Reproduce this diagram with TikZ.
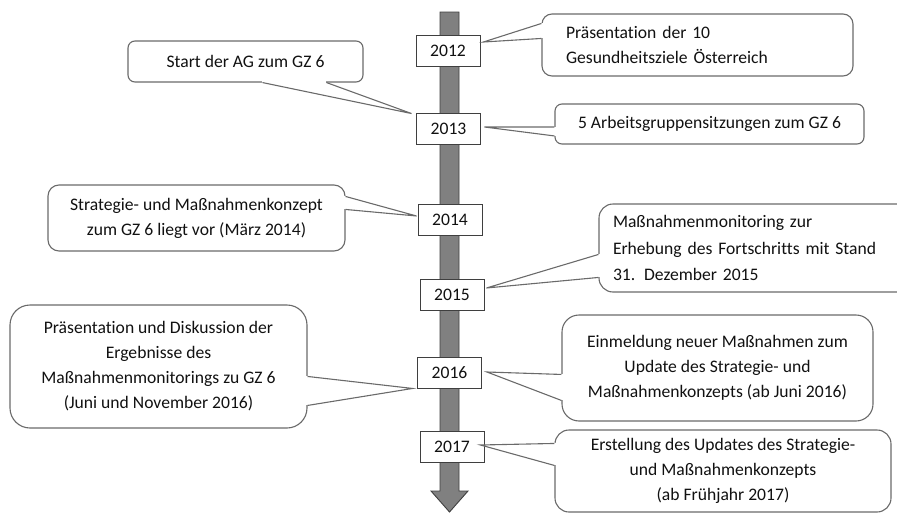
\documentclass[tikz,border=0pt]{standalone}
\usepackage{fontspec}
\setmainfont{Carlito}[Ligatures={NoCommon}]
\usepackage{xcolor}
\usepackage{tikz}
\usetikzlibrary{calc}
\definecolor{axis}{HTML}{808080}
\definecolor{axisline}{HTML}{3F3F3F}
\definecolor{frame}{HTML}{6A6A6A}
\definecolor{ink}{HTML}{111111}
\tikzset{
  timeline/.style={fill=axis, draw=axisline, line width=0.9pt, line join=miter},
  yearbox/.style={draw=axisline, fill=white, line width=0.9pt, minimum width=64pt, minimum height=31pt, inner sep=0pt, text=ink},
  callout/.style={draw=frame, fill=white, line width=1.1pt, rounded corners=#1, inner sep=0pt, align=center, text=ink},
  gap/.style={draw=white, line width=2.6pt},
  pointer/.style={draw=frame, line width=1.1pt, line join=miter},
}

\begin{document}
\begin{tikzpicture}[x=1pt, y=-1pt, font=\fontsize{17.6}{25}\selectfont]
  \useasboundingbox (0,0) rectangle (897,514);
  % timeline
  \filldraw[timeline] (440,12) -- (459,12) -- (459,491) -- (468,491) -- (449.5,512) -- (431,491) -- (440,491) -- cycle;
  \node[yearbox] (y12) at (448,50.5) {2012};
  \node[yearbox] (y13) at (448.5,128.5) {2013};
  \node[yearbox] (y14) at (450,219.5) {2014};
  \node[yearbox] (y15) at (452,295) {2015};
  \node[yearbox] (y16) at (449.5,373) {2016};
  \node[yearbox] (y17) at (452,447) {2017};

  % callouts
  \node[callout=10pt, minimum width=311pt, minimum height=62pt, text width=263pt, align=left] (c12) at (697.5,45) {Präsentation der 10\\Gesundheitsziele Österreich};
  \node[callout=7pt, minimum width=309pt, minimum height=40pt] (c13r) at (709.5,124) {5 Arbeitsgruppensitzungen zum GZ 6};
  \node[callout=7pt, minimum width=235pt, minimum height=41pt] (c13l) at (245.5,61.5) {Start der AG zum GZ 6};
  \node[callout=11pt, minimum width=297pt, minimum height=66pt] (c14) at (196.5,218) {Strategie- und Maßnahmenkonzept\\zum GZ 6 liegt vor (März 2014)};
  \node[callout=14pt, minimum width=328pt, minimum height=88pt, text width=300pt, align=left, font=\fontsize{17.6}{26.5}\selectfont] (c15) at (763,248) {Maßnahmenmonitoring zur\\Erhebung des Fortschritts mit Stand\\31. Dezember 2015};
  \node[callout=20pt, minimum width=297pt, minimum height=123pt] (c16l) at (158.5,366.5) {Präsentation und Diskussion der\\Ergebnisse des\\Maßnahmenmonitorings zu GZ 6\\(Juni und November 2016)};
  \node[callout=17pt, minimum width=311pt, minimum height=106pt] (c16r) at (717.5,368) {Einmeldung neuer Maßnahmen zum\\Update des Strategie- und\\Maßnahmenkonzepts (ab Juni 2016)};
  \node[callout=14pt, minimum width=336pt, minimum height=82pt] (c17) at (723,471) {Erstellung des Updates des Strategie-\\und Maßnahmenkonzepts\\(ab Frühjahr 2017)};

  % pointers
  \coordinate (a12) at ($(c12.north west)+(0,10)$);
  \coordinate (b12) at ($(c12.north west)+(0,25)$);
  \coordinate (a13r) at ($(c13r.north west)+(0,23.5)$);
  \coordinate (b13r) at ($(c13r.north west)+(0,32.5)$);
  \coordinate (a13l) at ($(c13l.south west)+(135,0)$);
  \coordinate (b13l) at ($(c13l.south west)+(199,0)$);
  \coordinate (a14) at ($(c14.north east)+(0,12)$);
  \coordinate (b14) at ($(c14.north east)+(0,25)$);
  \coordinate (a15) at ($(c15.north west)+(0,51)$);
  \coordinate (b15) at ($(c15.north west)+(0,74)$);
  \coordinate (a16l) at ($(c16l.north east)+(0,72)$);
  \coordinate (b16l) at ($(c16l.north east)+(0,101)$);
  \coordinate (a16r) at ($(c16r.north west)+(0,60)$);
  \coordinate (b16r) at ($(c16r.north west)+(0,86)$);
  \coordinate (a17) at ($(c17.north west)+(0,14)$);
  \coordinate (b17) at ($(c17.north west)+(0,36)$);
  \foreach \c in {12,13r,13l,14,15,16l,16r,17}
    \draw[gap] (a\c) -- (b\c);
  \draw[pointer] (a12) -- ($(y12.east)+(3,-8.5)$) -- (b12);
  \draw[pointer] (a13r) -- ($(y13.east)+(3.5,-1.5)$) -- (b13r);
  \draw[pointer] (a13l) -- ($(y13.north west)+(-4.5,1)$) -- (b13l);
  \draw[pointer] (a14) -- ($(y14.west)+(-1,-3.5)$) -- (b14);
  \draw[pointer] (a15) -- ($(y15.east)+(2,-7)$) -- (b15);
  \draw[pointer] (a16l) -- ($(y16.south west)+(-4.5,-0.5)$) -- (b16l);
  \draw[pointer] (a16r) -- ($(y16.east)+(5,-1)$) -- (b16r);
  \draw[pointer] (a17) -- ($(y17.east)+(-4,-2)$) -- (b17);
\end{tikzpicture}
\end{document}
